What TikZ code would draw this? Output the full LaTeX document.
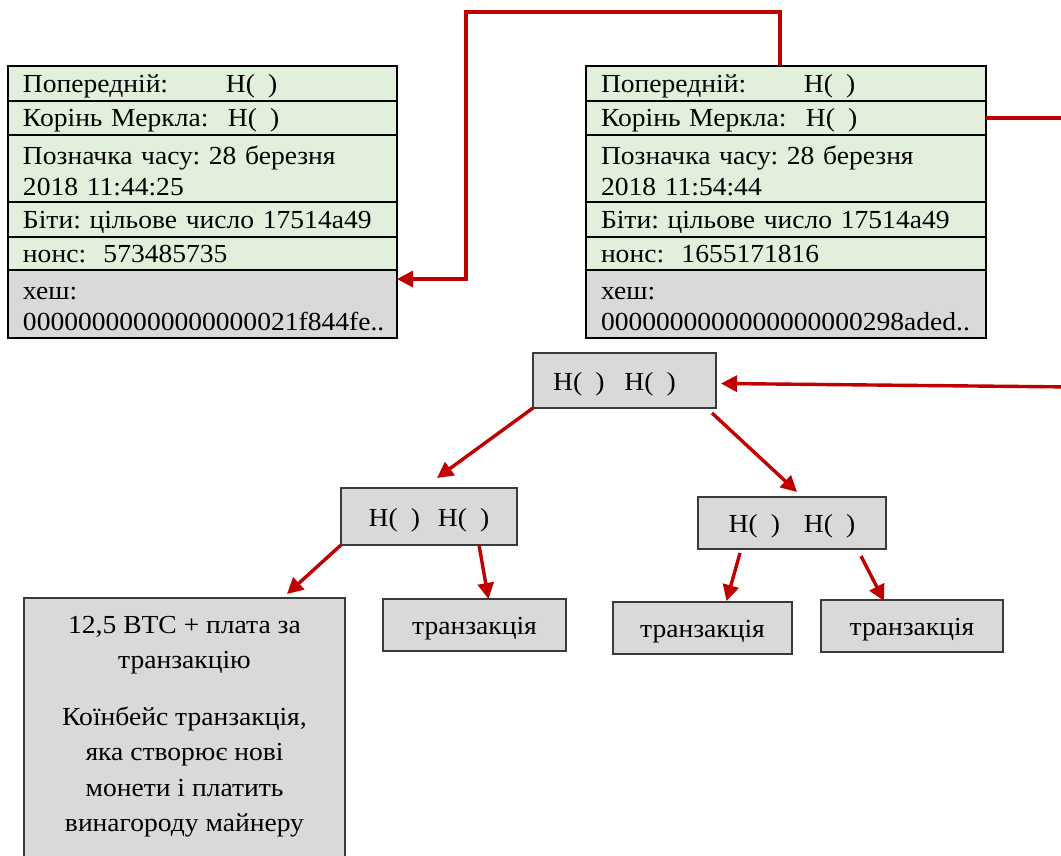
\documentclass[tikz,border=0pt]{standalone}
\usepackage{fontspec}
\setmainfont{Liberation Serif}[FakeStretch=1.06]
\usetikzlibrary{arrows.meta,calc}
\definecolor{rowgreen}{HTML}{E2EFDA}
\definecolor{boxgray}{HTML}{D9D9D9}
\definecolor{linered}{HTML}{C00000}
\definecolor{treeborder}{HTML}{3A3A3A}
\newcommand{\Hpar}{H(\hspace{13pt})}
\frenchspacing
\begin{document}
\begin{tikzpicture}[x=1pt,y=-1pt,
  font=\fontsize{26}{31}\selectfont\frenchspacing,
  rowbox/.style={draw=black, line width=2.4pt, fill=rowgreen, anchor=north west,
    outer sep=0pt, inner xsep=15pt, inner ysep=0pt, align=left},
  onerow/.style={rowbox, text height=19pt, text depth=2pt},
  hashbox/.style={rowbox, fill=boxgray},
  treebox/.style={draw=treeborder, line width=1.6pt, fill=boxgray, anchor=north west,
    outer sep=0pt, inner sep=0pt, align=center},
  treetext/.style={treebox, text height=21pt, text depth=2pt},
  redline/.style={draw=linered, line width=3.4pt},
  redarrow/.style={redline, -{Triangle[length=16pt,width=16pt]}}
]
\useasboundingbox (0,0) rectangle (1061,855);
\fill[white] (0,0) rectangle (1061,855);
\clip (0,0) rectangle (1061,855);

% ---- left block ----
\node[onerow, minimum width=389pt, text width=359pt, minimum height=35pt] (L1) at (8,66)
  {\mbox{\makebox[203pt][l]{Попередній:}\Hpar}};
\node[onerow, minimum width=389pt, text width=359pt, minimum height=34pt] (L2) at (L1.south west)
  {\mbox{\makebox[205pt][l]{Корінь Меркла:}\Hpar}};
\node[rowbox, minimum width=389pt, text width=359pt, minimum height=67pt] (L3) at (L2.south west)
  {\mbox{\rule{0pt}{23pt}Позначка часу: 28 березня}\\\mbox{2018 11:44:25}};
\node[onerow, minimum width=389pt, text width=359pt, minimum height=35pt] (L4) at (L3.south west)
  {\mbox{Біти: цільове число 17514a49}};
\node[onerow, minimum width=389pt, text width=359pt, minimum height=33pt] (L5) at (L4.south west)
  {\mbox{нонс:\ \ 573485735}};
\node[hashbox, minimum width=389pt, text width=359pt, minimum height=68pt] (L6) at (L5.south west)
  {\mbox{\rule{0pt}{22pt}хеш:}\\\mbox{00000000000000000021f844fe..}};

% ---- right block ----
\node[onerow, minimum width=400pt, text width=370pt, minimum height=35pt] (R1) at (586,66)
  {\mbox{\makebox[203pt][l]{Попередній:}\Hpar}};
\node[onerow, minimum width=400pt, text width=370pt, minimum height=34pt] (R2) at (R1.south west)
  {\mbox{\makebox[205pt][l]{Корінь Меркла:}\Hpar}};
\node[rowbox, minimum width=400pt, text width=370pt, minimum height=67pt] (R3) at (R2.south west)
  {\mbox{\rule{0pt}{23pt}Позначка часу: 28 березня}\\\mbox{2018 11:54:44}};
\node[onerow, minimum width=400pt, text width=370pt, minimum height=35pt] (R4) at (R3.south west)
  {\mbox{Біти: цільове число 17514a49}};
\node[onerow, minimum width=400pt, text width=370pt, minimum height=33pt] (R5) at (R4.south west)
  {\mbox{нонс:\ \ 1655171816}};
\node[hashbox, minimum width=400pt, text width=370pt, minimum height=68pt] (R6) at (R5.south west)
  {\mbox{\rule{0pt}{22pt}хеш:}\\\mbox{0000000000000000000298aded..}};

% ---- Merkle tree ----
\node[treetext, minimum width=183pt, minimum height=55pt] (root) at (533,353)
  {\Hpar\hspace{20pt}\Hpar\hspace{20pt}};
\node[treetext, minimum width=176pt, minimum height=57pt] (lm) at (341,488)
  {\Hpar\hspace{18pt}\Hpar};
\node[treetext, minimum width=188pt, minimum height=52pt] (rm) at (698,497)
  {\Hpar\hspace{24pt}\Hpar};
\node[treetext, minimum width=183pt, minimum height=52pt] (tx1) at (383,599) {транзакція};
\node[treetext, minimum width=179pt, minimum height=52pt] (tx2) at (613,602) {транзакція};
\node[treetext, minimum width=182pt, minimum height=52pt] (tx3) at (821,600) {транзакція};
\node[treebox, inner xsep=10pt] (cb) at (24,598)
  {\parbox[c][290pt][t]{301pt}{\centering\fontsize{26}{35.5}\selectfont
   \rule{0pt}{35pt}12,5 BTC + плата за\\
   транзакцію\\[21pt]
   Коїнбейс транзакція,\\
   яка створює нові\\
   монети і платить\\
   винагороду майнеру}};

% ---- red connectors ----
\coordinate (top) at (780,12);
\coordinate (bend) at (466,12);
\draw[redarrow] (R1.north -| top) -- (top) -- (bend) |- ($(L6.north east)+(0,9)$);
\coordinate (mrk) at (1075,118);
\draw[redline] (R2.east) -- (R2.east -| mrk);
\coordinate (rin) at (1075,387);
\draw[redarrow] (rin) -- ($(root.east)+(5,3)$);

\draw[redarrow] (root.south west) -- ($(lm.north)+(8,-10)$);
\draw[redarrow] ($(root.south east)+(-4,5)$) -- ($(rm.north)+(5,-5)$);
\draw[redarrow] (lm.south west) -- ($(cb.north east)+(-58,-4)$);
\draw[redarrow] ($(lm.south)+(50,0)$) -- ($(tx1.north)+(14,0)$);
\draw[redarrow] ($(rm.south)+(-52,4)$) -- ($(tx2.north)+(24,-1)$);
\draw[redarrow] ($(rm.south)+(69,7)$) -- ($(tx3.north)+(-28,1)$);
\end{tikzpicture}
\end{document}
